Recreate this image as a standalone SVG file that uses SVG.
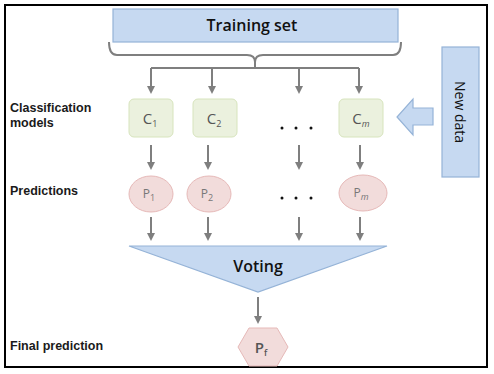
<svg xmlns="http://www.w3.org/2000/svg" width="494" height="374" viewBox="0 0 494 374">
  <defs>
    <marker id="ah" viewBox="0 0 10 10" refX="5" refY="5" markerWidth="4" markerHeight="4" orient="auto">
      <path d="M0,0 L10,5 L0,10 z" fill="#7f7f7f"/>
    </marker>
  </defs>
  <style>
    .lbl { font-family: "Liberation Sans", "Open Sans", sans-serif; font-weight: bold; font-size: 12.5px; fill: #1a1a1a; }
    .ttl { font-family: "Open Sans", "Liberation Sans", sans-serif; font-weight: 600; font-size: 16px; fill: #111; text-anchor: middle; }
    .sym { font-family: "Open Sans", "Liberation Sans", sans-serif; font-size: 15px; fill: #555; text-anchor: middle; }
    .psym { font-family: "Open Sans", "Liberation Sans", sans-serif; font-size: 12px; fill: #777; text-anchor: middle; }
    .sub { font-size: 9px; }
    .blue { fill: #c6d9f1; stroke: #95b3d7; stroke-width: 1.2; }
    .green { fill: #ebf1de; stroke: #d7e4bd; stroke-width: 1; }
    .pink { fill: #f2dcdb; stroke: #e6b9b8; stroke-width: 1; }
    .conn { fill: none; stroke: #7f7f7f; stroke-width: 2; }
    .dot { fill: #111; }
  </style>

  <rect width="494" height="374" fill="#ffffff"/>
  <rect x="5" y="5" width="482" height="362" fill="none" stroke="#000" stroke-width="2"/>

  <!-- side labels -->
  <text class="lbl" x="10" y="112">Classification</text>
  <text class="lbl" x="10" y="127">models</text>
  <text class="lbl" x="10" y="195">Predictions</text>
  <text class="lbl" x="10" y="350">Final prediction</text>

  <g id="training-set">
    <rect class="blue" x="113" y="9" width="285" height="33"/>
    <text class="ttl" x="252" y="31">Training set</text>
  </g>

  <g id="new-data">
    <rect class="blue" x="442" y="47" width="37" height="130"/>
    <text class="ttl" transform="translate(455 112) rotate(90)" style="font-size:14px;font-weight:normal">New data</text>
    <path class="blue" d="M433,108 L413,108 L413,99 L397,117 L413,135 L413,125 L433,125 z"/>
  </g>

  <g id="c1">
    <rect class="green" x="129" y="99" width="44" height="38" rx="5"/>
    <text class="sym" x="150" y="124">C<tspan class="sub" dy="3">1</tspan></text>
  </g>
  <g id="c2">
    <rect class="green" x="193" y="99" width="44" height="38" rx="5"/>
    <text class="sym" x="214" y="124">C<tspan class="sub" dy="3">2</tspan></text>
  </g>
  <g id="cm">
    <rect class="green" x="339" y="99" width="44" height="38" rx="5"/>
    <text class="sym" x="361" y="124">C<tspan class="sub" dy="3" font-style="italic">m</tspan></text>
  </g>
  <g id="c-dots">
    <circle class="dot" cx="282" cy="128" r="1.5"/>
    <circle class="dot" cx="296" cy="128" r="1.5"/>
    <circle class="dot" cx="311" cy="128" r="1.5"/>
  </g>

  <g id="p1">
    <ellipse class="pink" cx="151" cy="194" rx="22" ry="18"/>
    <text class="psym" x="149" y="198">P<tspan class="sub" dy="3">1</tspan></text>
  </g>
  <g id="p2">
    <ellipse class="pink" cx="209" cy="194" rx="22" ry="18"/>
    <text class="psym" x="207" y="198">P<tspan class="sub" dy="3">2</tspan></text>
  </g>
  <g id="pm">
    <ellipse class="pink" cx="363" cy="193" rx="24" ry="18"/>
    <text class="psym" x="361" y="197">P<tspan class="sub" dy="3" font-style="italic">m</tspan></text>
  </g>
  <g id="p-dots">
    <circle class="dot" cx="282" cy="198" r="1.5"/>
    <circle class="dot" cx="296" cy="198" r="1.5"/>
    <circle class="dot" cx="311" cy="198" r="1.5"/>
  </g>

  <g id="voting">
    <path class="blue" d="M129,246 L387,246 L258,292 z"/>
    <text class="ttl" x="258" y="272">Voting</text>
  </g>

  <g id="pf">
    <path class="pink" d="M238,347 L249,328 L277,328 L288,347 L277,366 L249,366 z"/>
    <text class="sym" x="261" y="353" style="font-weight:600">P<tspan class="sub" dy="3">f</tspan></text>
  </g>

  <g id="connectors">
    <!-- brace under the training set -->
    <path class="conn" stroke-width="1.5" d="M109,42 Q109,55 117,55 L247,55 Q255,55 255,62 L255,68 M255,62 Q255,55 263,55 L393,55 Q401,55 401,42"/>
    <path class="conn" d="M151,68 L359,68"/>
    <path class="conn" d="M151,68 L151,90" marker-end="url(#ah)"/>
    <path class="conn" d="M212,68 L212,90" marker-end="url(#ah)"/>
    <path class="conn" d="M299,68 L299,90" marker-end="url(#ah)"/>
    <path class="conn" d="M359,68 L359,90" marker-end="url(#ah)"/>

    <path class="conn" d="M151,145 L151,166" marker-end="url(#ah)"/>
    <path class="conn" d="M208,145 L208,166" marker-end="url(#ah)"/>
    <path class="conn" d="M299,145 L299,166" marker-end="url(#ah)"/>
    <path class="conn" d="M360,145 L360,166" marker-end="url(#ah)"/>

    <path class="conn" d="M151,217 L151,237" marker-end="url(#ah)"/>
    <path class="conn" d="M208,217 L208,237" marker-end="url(#ah)"/>
    <path class="conn" d="M299,217 L299,237" marker-end="url(#ah)"/>
    <path class="conn" d="M360,217 L360,237" marker-end="url(#ah)"/>

    <path class="conn" d="M258,297 L258,320" marker-end="url(#ah)"/>
  </g>
</svg>
